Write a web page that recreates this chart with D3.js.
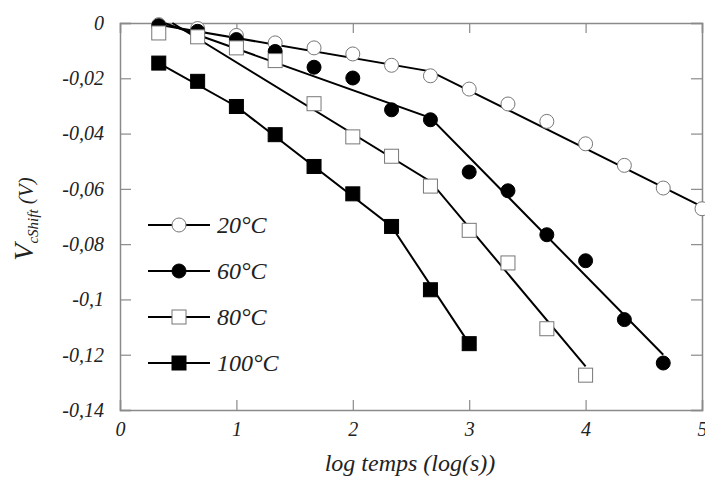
<!DOCTYPE html>
<html>
<head>
<meta charset="utf-8">
<script src="https://cdn.jsdelivr.net/npm/d3@7"></script>
<style>
  body { margin: 0; background: #fff; }
  text { font-family: "Liberation Serif", "Times New Roman", serif; font-style: italic; fill: #222; }
</style>
</head>
<body>
<div id="chart"></div>
<script>
// log(time) positions of the measurements
const logT = [0.333, 0.667, 1, 1.333, 1.667, 2, 2.333, 2.667, 3, 3.333, 3.667, 4, 4.333, 4.667, 5];

// measured VcShift (V) per temperature
const v20 = [-0.0006, -0.0020, -0.0045, -0.0072, -0.0090, -0.0112, -0.0153, -0.0191, -0.0239, -0.0293, -0.0356, -0.0437, -0.0515, -0.0597, -0.0672];
const v60 = [-0.0010, -0.0030, -0.0060, -0.0103, -0.0160, -0.0199, -0.0314, -0.0350, -0.0539, -0.0607, -0.0766, -0.0860, -0.1073, -0.1230];
const v80 = [-0.0036, -0.0050, -0.0090, -0.0136, -0.0292, -0.0412, -0.0482, -0.0590, -0.0750, -0.0868, -0.1106, -0.1274];
const v100 = [-0.0145, -0.0211, -0.0302, -0.0404, -0.0519, -0.0618, -0.0736, -0.0965, -0.1160];

// fitted line breakpoints [logT, V]
const fit20 = [[0.333, -0.0006], [2.667, -0.0175], [5, -0.0664]];
const fit60 = [[0.38, 0], [2.667, -0.0343], [4.667, -0.1200]];
const fit80 = [[0.45, 0], [2.667, -0.0573], [4, -0.1242]];
const fit100 = [[0.333, -0.0145], [1, -0.0302], [2.333, -0.0736], [3, -0.1160]];

const seriesNames = ["20°C", "60°C", "80°C", "100°C"];

const xTicks = [0, 1, 2, 3, 4, 5];
const xTickLabels = ["0", "1", "2", "3", "4", "5"];
const yTicks = [0, -0.02, -0.04, -0.06, -0.08, -0.1, -0.12, -0.14];
const yTickLabels = ["0", "-0,02", "-0,04", "-0,06", "-0,08", "-0,1", "-0,12", "-0,14"];

const W = 705, H = 477;
const margin = { top: 23, right: 3, bottom: 67, left: 120 };
const w = W - margin.left - margin.right;
const h = H - margin.top - margin.bottom;

const svg = d3.select("#chart").append("svg")
    .attr("width", W)
    .attr("height", H);

const g = svg.append("g")
    .attr("transform", `translate(${margin.left},${margin.top})`);

const x = d3.scaleLinear().domain([0, 5]).range([0, w]);
const y = d3.scaleLinear().domain([-0.14, 0]).range([h, 0]);

const axisColor = "#8a8a8a";

function styleAxis(sel) {
    sel.select(".domain").attr("stroke", axisColor).attr("stroke-width", 1.5);
    sel.selectAll(".tick line").attr("stroke", axisColor).attr("stroke-width", 1.2);
    sel.selectAll(".tick text").attr("fill", "#222").style("font-size", "20px").attr("font-family", null);
}

// bottom / left axes with inside ticks
g.append("g")
    .attr("transform", `translate(0,${h})`)
    .call(d3.axisBottom(x).tickValues(xTicks).tickSize(-10).tickPadding(12)
        .tickFormat((d, i) => xTickLabels[i]))
    .call(styleAxis);

g.append("g")
    .call(d3.axisLeft(y).tickValues(yTicks).tickSize(-11).tickPadding(16)
        .tickFormat((d, i) => yTickLabels[i]))
    .call(styleAxis);

// mirrored top / right axes
g.append("g")
    .call(d3.axisTop(x).tickValues(xTicks).tickSize(-10).tickFormat(""))
    .call(styleAxis);

g.append("g")
    .attr("transform", `translate(${w},0)`)
    .call(d3.axisRight(y).tickValues(yTicks).tickSize(-11).tickFormat(""))
    .call(styleAxis);

// fitted lines
const line = d3.line().x(d => x(d[0])).y(d => y(d[1]));
[fit20, fit60, fit80, fit100].forEach(f => {
    g.append("path")
        .datum(f)
        .attr("d", line)
        .attr("fill", "none")
        .attr("stroke", "#000")
        .attr("stroke-width", 2);
});

// markers
const styles = [
    { shape: "circle", fill: "#fff", stroke: "#777" },
    { shape: "circle", fill: "#000", stroke: "#000" },
    { shape: "square", fill: "#fff", stroke: "#777" },
    { shape: "square", fill: "#000", stroke: "#000" }
];

function drawMarker(sel, st) {
    if (st.shape === "circle") {
        sel.append("circle").attr("r", 7)
            .attr("fill", st.fill).attr("stroke", st.stroke).attr("stroke-width", 1);
    } else {
        sel.append("rect").attr("x", -7).attr("y", -7).attr("width", 14).attr("height", 14)
            .attr("fill", st.fill).attr("stroke", st.stroke).attr("stroke-width", 1);
    }
}

[v20, v60, v80, v100].forEach((vals, k) => {
    g.selectAll(".m" + k)
        .data(vals)
        .enter().append("g")
        .attr("class", "m" + k)
        .attr("transform", (d, i) => `translate(${x(logT[i])},${y(d)})`)
        .each(function () { drawMarker(d3.select(this), styles[k]); });
});

// legend
const legend = g.append("g").attr("transform", "translate(28,202)");
seriesNames.forEach((name, k) => {
    const row = legend.append("g").attr("transform", `translate(0,${k * 46})`);
    row.append("line").attr("x1", 0).attr("x2", 62).attr("y1", 0).attr("y2", 0)
        .attr("stroke", "#000").attr("stroke-width", 2);
    const m = row.append("g").attr("transform", "translate(31,0)");
    drawMarker(m, styles[k]);
    row.append("text").attr("x", 69).attr("y", 8)
        .style("font-size", "24px")
        .text(name);
});

// axis titles
svg.append("text")
    .attr("x", 410)
    .attr("y", 471)
    .attr("text-anchor", "middle")
    .style("font-size", "24px")
    .text("log temps (log(s))");

const yt = svg.append("text")
    .attr("transform", "translate(33,219) rotate(-90)")
    .attr("text-anchor", "middle");
yt.append("tspan").style("font-size", "28px").text("V");
yt.append("tspan").style("font-size", "15px").attr("dy", 5).text("cShift");
yt.append("tspan").style("font-size", "21px").attr("dy", -5).text(" (V)");
</script>
</body>
</html>
